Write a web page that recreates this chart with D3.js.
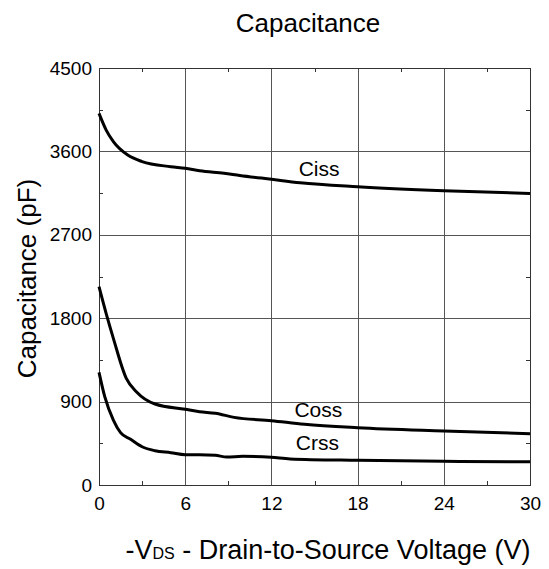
<!DOCTYPE html>
<html>
<head>
<meta charset="utf-8">
<script src="https://cdn.jsdelivr.net/npm/d3@7"></script>
<style>
  html, body { margin: 0; padding: 0; background: #fff; }
  svg text { font-family: "Liberation Sans", Arial, sans-serif; fill: #000; }
  .grid line { stroke: #555; stroke-width: 1; }
  .curve { fill: none; stroke: #000; stroke-width: 3; stroke-linejoin: round; }
</style>
</head>
<body>
<svg id="chart"></svg>
<script>
// values
const cissV = [0, 0.5, 1, 2, 3, 5, 6, 7, 8.7, 9.8, 12, 14, 18, 24, 30];
const cissC = [4010, 3830, 3705, 3560, 3490, 3435, 3417, 3391, 3363, 3340, 3299, 3262, 3219, 3176, 3147];

const cossV = [0, 0.5, 1, 1.9, 2.6, 3.9, 6, 7, 8.1, 9.4, 12, 14.3, 18, 24, 30];
const cossC = [2140, 1850, 1583, 1151, 1007, 874, 817, 791, 774, 730, 694, 655, 618, 583, 554];

const crssV = [0, 0.4, 1, 1.5, 2.2, 3, 3.9, 5, 6, 7, 8.1, 8.9, 10, 12, 13.3, 18, 24, 30];
const crssC = [1216, 953, 701, 565, 493, 413, 370, 349, 327, 327, 320, 302, 310, 299, 281, 266, 256, 251];

const xTicks = [0, 6, 12, 18, 24, 30];
const xMinor = [3, 9, 15, 21, 27];
const yTicks = [0, 900, 1800, 2700, 3600, 4500];
const yMinor = [450, 1350, 2250, 3150, 4050];

const seriesLabels = [
  { name: 'Ciss', v: 13.9, c: 3330 },
  { name: 'Coss', v: 13.6, c: 737 },
  { name: 'Crss', v: 13.7, c: 378 },
];

const width = 549;
const height = 569;
const margin = { top: 68, right: 19, bottom: 84, left: 99 };
const plotW = width - margin.left - margin.right;
const plotH = height - margin.top - margin.bottom;

const svg = d3.select('#chart').attr('width', width).attr('height', height);
const g = svg.append('g').attr('transform', `translate(${margin.left}, ${margin.top})`);

const x = d3.scaleLinear().domain([0, 30]).range([0, plotW]);
const y = d3.scaleLinear().domain([0, 4500]).range([plotH, 0]);

// grid
const grid = g.append('g').attr('class', 'grid');
grid.selectAll('.gx').data(xTicks).enter().append('line')
  .attr('x1', (d) => Math.round(x(d)) + 0.5).attr('x2', (d) => Math.round(x(d)) + 0.5)
  .attr('y1', 0).attr('y2', plotH);
grid.selectAll('.gy').data(yTicks).enter().append('line')
  .attr('x1', 0).attr('x2', plotW)
  .attr('y1', (d) => Math.round(y(d)) + 0.5).attr('y2', (d) => Math.round(y(d)) + 0.5);

// minor ticks, inward on all four sides
const minor = g.append('g').attr('stroke', '#333').attr('stroke-width', 1);
xMinor.forEach((d) => {
  const px = Math.round(x(d)) + 0.5;
  minor.append('line').attr('x1', px).attr('x2', px).attr('y1', 0).attr('y2', 4);
  minor.append('line').attr('x1', px).attr('x2', px).attr('y1', plotH - 4).attr('y2', plotH);
});
yMinor.forEach((d) => {
  const py = Math.round(y(d)) + 0.5;
  minor.append('line').attr('x1', 0).attr('x2', 4).attr('y1', py).attr('y2', py);
  minor.append('line').attr('x1', plotW - 4).attr('x2', plotW).attr('y1', py).attr('y2', py);
});

// axes (labels only, frame drawn separately)
const xAxis = d3.axisBottom(x).tickValues(xTicks).tickSize(0).tickPadding(12);
const yAxis = d3.axisLeft(y).tickValues(yTicks).tickFormat(d3.format('d')).tickSize(0).tickPadding(7);
const xAxisGroup = g.append('g').attr('transform', `translate(0, ${plotH})`).call(xAxis);
const yAxisGroup = g.append('g').call(yAxis);
[xAxisGroup, yAxisGroup].forEach((ag) => {
  ag.select('.domain').remove();
  ag.selectAll('text').style('font-size', '19px').attr('fill', '#000');
});

// frame
g.append('rect').attr('x', 0.5).attr('y', 0.5).attr('width', plotW).attr('height', plotH)
  .attr('fill', 'none').attr('stroke', '#333').attr('stroke-width', 1);

// curves
const line = d3.line().curve(d3.curveMonotoneX).x((d) => x(d[0])).y((d) => y(d[1]));
[[cissV, cissC], [cossV, cossC], [crssV, crssC]].forEach(([vs, cs]) => {
  g.append('path').attr('class', 'curve').attr('d', line(vs.map((v, i) => [v, cs[i]])));
});

// series labels
g.selectAll('.slabel').data(seriesLabels).enter().append('text')
  .attr('x', (d) => x(d.v)).attr('y', (d) => y(d.c))
  .style('font-size', '21px').text((d) => d.name);

// title
svg.append('text').attr('x', 308).attr('y', 32)
  .attr('text-anchor', 'middle').style('font-size', '26px').text('Capacitance');

// y label
svg.append('text')
  .attr('transform', `translate(36, ${margin.top + plotH / 2 + 2}) rotate(-90)`)
  .attr('text-anchor', 'middle').style('font-size', '26px').text('Capacitance (pF)');

// x label with subscript
const xl = svg.append('text').attr('x', 328).attr('y', 559)
  .attr('text-anchor', 'middle').style('font-size', '27px');
xl.append('tspan').text('-V');
xl.append('tspan').style('font-size', '16px').text('DS');
xl.append('tspan').text(' - Drain-to-Source Voltage (V)');
</script>
</body>
</html>
